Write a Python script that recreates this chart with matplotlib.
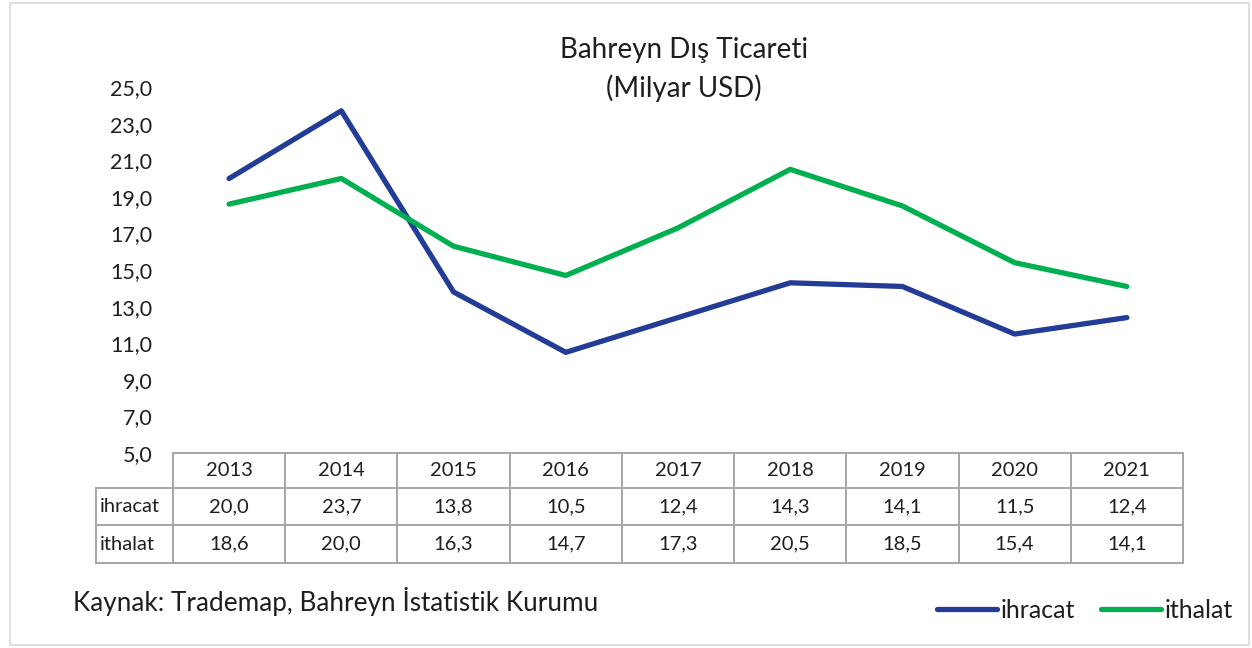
import matplotlib.pyplot as plt
import matplotlib.transforms as mtransforms
from matplotlib.patches import Rectangle

plt.rcParams['font.family'] = ['Lato', 'DejaVu Sans']

years = ['2013', '2014', '2015', '2016', '2017', '2018', '2019', '2020', '2021']
ihracat = [20.0, 23.7, 13.8, 10.5, 12.4, 14.3, 14.1, 11.5, 12.4]
ithalat = [18.6, 20.0, 16.3, 14.7, 17.3, 20.5, 18.5, 15.4, 14.1]
yticks = [5, 7, 9, 11, 13, 15, 17, 19, 21, 23, 25]

W, H = 1252, 648
txt = '#1e1e1e'
fig = plt.figure(figsize=(W / 100, H / 100), dpi=100)
fig.patches.append(Rectangle((10 / W, 3 / H), 1239 / W, 642 / H, transform=fig.transFigure,
                             fill=False, edgecolor='#d9d9d9', linewidth=1.2))

left, right, top, bottom = 173, 1183, 87, 453
ax = fig.add_axes([left / W, 1 - bottom / H, (right - left) / W, (bottom - top) / H])

x = list(range(len(years)))
ax.plot(x, ihracat, color='#233C96', linewidth=3.8, label='ihracat', solid_capstyle='round')
ax.plot(x, ithalat, color='#00B050', linewidth=3.8, label='ithalat', solid_capstyle='round')

ax.set_xlim(-0.5, len(years) - 0.5)
ax.set_ylim(5, 25)
ax.set_yticks(yticks)
ax.set_yticklabels([f'{v:.1f}'.replace('.', ',') for v in yticks], fontsize=15.5, color=txt)
ax.set_xticks([])
ax.tick_params(axis='y', length=0, pad=15)
for s in ax.spines.values():
    s.set_visible(False)

fig.text(684 / W, 1 - 50 / H, 'Bahreyn Dış Ticareti', ha='center', va='center', fontsize=20, color=txt)
fig.text(684 / W, 1 - 88 / H, '(Milyar USD)', ha='center', va='center', fontsize=20, color=txt)

# data table below the axes: x in data coords, y in figure pixels
trans = mtransforms.blended_transform_factory(ax.transData, fig.transFigure)
gcol = '#a6a6a6'
lw = 1.4
rows_y = [453, 488, 525, 563]
hdr_x = -0.5 - (left - 96) / ((right - left) / len(years))

def fy(p):
    return 1 - p / H

ax.plot([-0.5, len(years) - 0.5], [fy(rows_y[0])] * 2, transform=trans, color=gcol, lw=lw, clip_on=False)
for ry in rows_y[1:]:
    ax.plot([hdr_x, len(years) - 0.5], [fy(ry)] * 2, transform=trans, color=gcol, lw=lw, clip_on=False)
for i in range(len(years) + 1):
    ax.plot([i - 0.5] * 2, [fy(rows_y[0]), fy(rows_y[-1])], transform=trans, color=gcol, lw=lw, clip_on=False)
ax.plot([hdr_x] * 2, [fy(rows_y[1]), fy(rows_y[-1])], transform=trans, color=gcol, lw=lw, clip_on=False)

for i, yr in enumerate(years):
    ax.text(i, fy((rows_y[0] + rows_y[1]) / 2), yr, transform=trans, ha='center', va='center', fontsize=14.5, color=txt)
    ax.text(i, fy((rows_y[1] + rows_y[2]) / 2), f'{ihracat[i]:.1f}'.replace('.', ','), transform=trans,
            ha='center', va='center', fontsize=14.5, color=txt)
    ax.text(i, fy((rows_y[2] + rows_y[3]) / 2), f'{ithalat[i]:.1f}'.replace('.', ','), transform=trans,
            ha='center', va='center', fontsize=14.5, color=txt)
ax.text(hdr_x + 0.03, fy((rows_y[1] + rows_y[2]) / 2), 'ihracat', transform=trans, ha='left', va='center', fontsize=14.5, color=txt)
ax.text(hdr_x + 0.03, fy((rows_y[2] + rows_y[3]) / 2), 'ithalat', transform=trans, ha='left', va='center', fontsize=14.5, color=txt)

fig.text(73 / W, 1 - 602 / H, 'Kaynak: Trademap, Bahreyn İstatistik Kurumu', ha='left', va='center', fontsize=18.8, color=txt)

fig.legend(loc='center right', bbox_to_anchor=(1255 / W, 1 - 610 / H), ncol=2, frameon=False, fontsize=18,
           handlelength=2.4, handletextpad=0.15, columnspacing=1.0, labelcolor=txt)

fig.savefig('out.png', dpi=100)
